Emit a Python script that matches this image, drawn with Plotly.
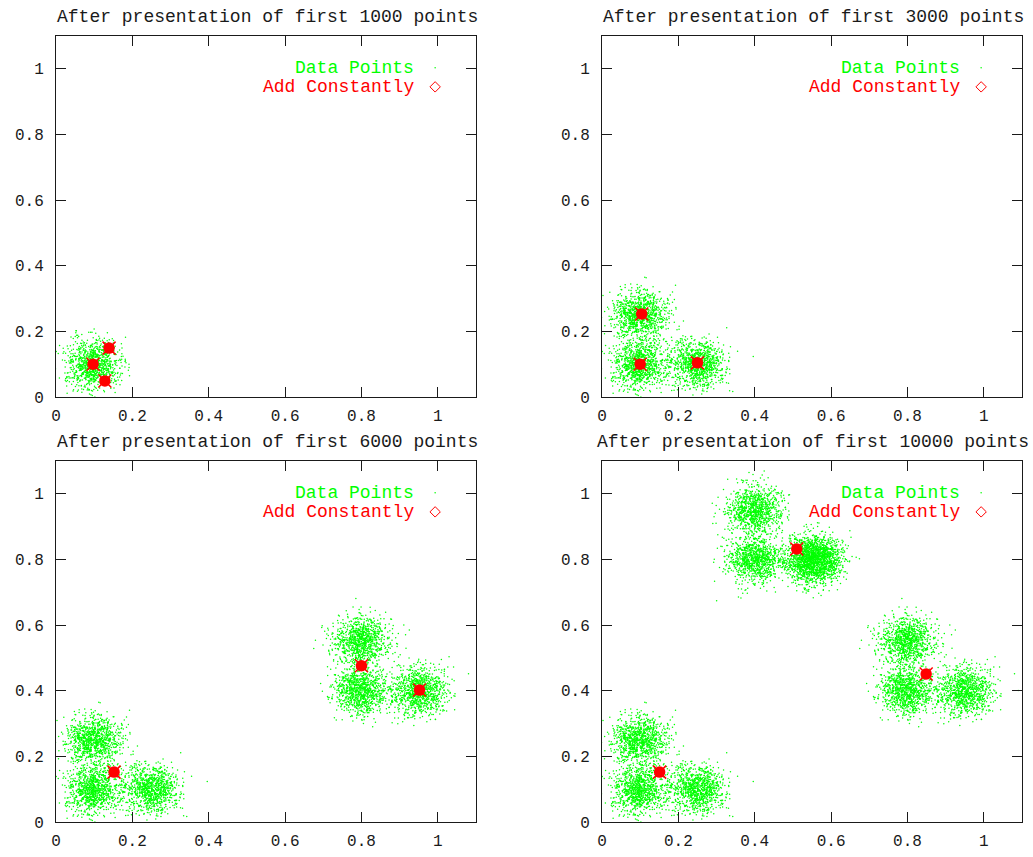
import numpy as np
import plotly.graph_objects as go

# ---- data -------------------------------------------------------------
panel_titles = [
    "After presentation of first 1000 points",
    "After presentation of first 3000 points",
    "After presentation of first 6000 points",
    "After presentation of first 10000 points",
]

# Gaussian clusters the input stream is drawn from (centre x, centre y, std-dev)
cluster_x = [0.10, 0.10, 0.25, 0.80, 0.80, 0.95, 0.40, 0.40, 0.555]
cluster_y = [0.10, 0.25, 0.10, 0.40, 0.55, 0.40, 0.80, 0.95, 0.80]
cluster_sd = [0.036, 0.036, 0.036, 0.036, 0.036, 0.036, 0.036, 0.036, 0.036]
# points presented from each cluster, per snapshot
cluster_counts = [
    [1000, 0, 0, 0, 0, 0, 0, 0, 0],
    [1000, 1000, 1000, 0, 0, 0, 0, 0, 0],
    [1000, 1000, 1000, 1000, 1000, 1000, 0, 0, 0],
    [1000, 1000, 1000, 1000, 1000, 1000, 1000, 1000, 2000],
]

# network nodes ("Add Constantly") per snapshot
node_x = [
    [0.097, 0.139, 0.128],
    [0.104, 0.100, 0.250],
    [0.152, 0.800, 0.952],
    [0.151, 0.510, 0.849],
]
node_y = [
    [0.100, 0.149, 0.049],
    [0.253, 0.100, 0.104],
    [0.152, 0.476, 0.402],
    [0.152, 0.832, 0.451],
]

tick_vals = [0, 0.2, 0.4, 0.6, 0.8, 1]
tick_text = ["0", "0.2", "0.4", "0.6", "0.8", "1"]

# ---- figure -----------------------------------------------------------
W, H = 1033, 857
FONT = "Liberation Mono, Courier New, monospace"
INK = "#1a1a1a"
GREEN = "#00ff00"
RED = "#ff0000"

# panel rectangles in pixels: (left, right, top, bottom)
panels_px = [(56, 476, 36, 397), (602, 1022, 36, 397),
             (56, 476, 461, 822), (602, 1022, 461, 822)]

fig = go.Figure()
rng = np.random.default_rng(7)

# one shared sample per cluster so later snapshots extend earlier ones
max_n = [max(c[i] for c in cluster_counts) for i in range(len(cluster_x))]
samples = [
    (rng.normal(cluster_x[i], cluster_sd[i], max_n[i]),
     rng.normal(cluster_y[i], cluster_sd[i], max_n[i]))
    for i in range(len(cluster_x))
]

for p in range(4):
    ax = "" if p == 0 else str(p + 1)
    xs, ys = [], []
    for i, n in enumerate(cluster_counts[p]):
        if n:
            xs.append(samples[i][0][:n])
            ys.append(samples[i][1][:n])
    xs = np.concatenate(xs)
    ys = np.concatenate(ys)

    fig.add_trace(go.Scatter(
        x=xs, y=ys, mode="markers", xaxis="x" + ax, yaxis="y" + ax,
        marker=dict(color=GREEN, size=1.5, line=dict(width=0)),
        showlegend=False, hoverinfo="skip",
    ))
    # node markers: filled blob with a cross over it
    fig.add_trace(go.Scatter(
        x=node_x[p], y=node_y[p], mode="markers", xaxis="x" + ax, yaxis="y" + ax,
        marker=dict(color=RED, size=11.5, symbol="circle", line=dict(width=0)),
        showlegend=False,
    ))
    fig.add_trace(go.Scatter(
        x=node_x[p], y=node_y[p], mode="markers", xaxis="x" + ax, yaxis="y" + ax,
        marker=dict(color=RED, size=13, symbol="x-thin-open", line=dict(width=1.5, color=RED)),
        showlegend=False,
    ))
    # legend key markers
    fig.add_trace(go.Scatter(
        x=[0.993], y=[1.003], mode="markers", xaxis="x" + ax, yaxis="y" + ax,
        marker=dict(color=GREEN, size=1.5), showlegend=False, hoverinfo="skip",
    ))
    fig.add_trace(go.Scatter(
        x=[0.993], y=[0.945], mode="markers", xaxis="x" + ax, yaxis="y" + ax,
        marker=dict(color=RED, size=8, symbol="diamond-open", line=dict(width=1, color=RED)),
        showlegend=False, hoverinfo="skip",
    ))

    l, r, t, b = panels_px[p]
    axis_common = dict(
        range=[0, 1.1], tickvals=tick_vals, ticktext=tick_text,
        ticks="inside", ticklen=10, tickwidth=1, tickcolor=INK,
        showline=True, linecolor=INK, linewidth=1, mirror="allticks",
        showgrid=False, zeroline=False, automargin=False,
        tickfont=dict(family=FONT, size=16, color=INK),
    )
    fig.update_layout(**{
        "xaxis" + ax: dict(axis_common, domain=[l / W, r / W], anchor="y" + ax,
                           ticklabelstandoff=4),
        "yaxis" + ax: dict(axis_common, domain=[1 - b / H, 1 - t / H], anchor="x" + ax,
                           ticklabelstandoff=8),
    })

    # title above each panel
    fig.add_annotation(
        text=panel_titles[p], xref="paper", yref="paper",
        x=(l + r + 2) / 2 / W, y=1 - (t - 19) / H, xanchor="center", yanchor="middle",
        showarrow=False, font=dict(family=FONT, size=18, color=INK),
    )
    # key labels
    fig.add_annotation(
        text="Data Points", xref="x" + ax, yref="y" + ax, x=0.943, y=1.003,
        xanchor="right", yanchor="middle", showarrow=False,
        font=dict(family=FONT, size=18, color=GREEN),
    )
    fig.add_annotation(
        text="Add Constantly", xref="x" + ax, yref="y" + ax, x=0.943, y=0.945,
        xanchor="right", yanchor="middle", showarrow=False,
        font=dict(family=FONT, size=18, color=RED),
    )

fig.update_layout(
    width=W, height=H, margin=dict(l=0, r=0, t=0, b=0, autoexpand=False),
    paper_bgcolor="white", plot_bgcolor="white", showlegend=False,
)

fig.write_html("out.html")
